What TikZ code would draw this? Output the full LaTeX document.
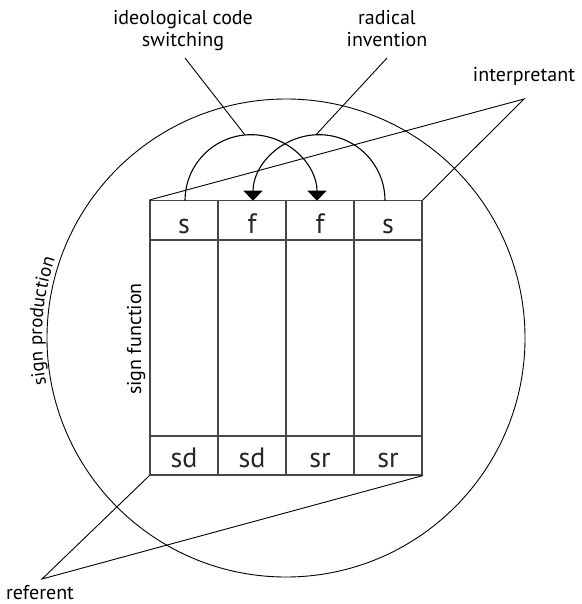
\documentclass[tikz,border=0pt]{standalone}
\usepackage{fontspec}
\setmainfont{PT Sans}
\usetikzlibrary{arrows.meta,decorations.text}
\begin{document}
\begin{tikzpicture}[x=1pt,y=-1pt,
  thinline/.style={draw=black,line width=0.9pt},
  gridline/.style={draw=black!72,line width=1.3pt},
  arcline/.style={draw=black,line width=1.1pt,-{Triangle[width=19pt,length=10pt]}},
  lbl/.style={inner sep=0pt,font=\fontsize{20}{22}\selectfont,align=center},
  celltxt/.style={inner sep=0pt,anchor=base,font=\fontsize{28}{30}\selectfont,text=black!85},
  tablebox/.style={gridline,minimum width=272pt,minimum height=274.3pt,inner sep=0pt}]
\useasboundingbox (0,0) rectangle (581,604);
% circle
\node[thinline,circle,minimum size=478pt,inner sep=0pt] (circ) at (286,338) {};
% table
\node[tablebox] (tbl) at (286,337.85) {};
\draw[gridline] (150,240) -- (422,240);
\draw[gridline] (150,436) -- (422,436);
\draw[gridline] (218,200.7) -- (218,475);
\draw[gridline] (286,200.7) -- (286,475);
\draw[gridline] (354,200.7) -- (354,475);
% cell texts
\node[celltxt] (t1) at (184,233) {s};
\node[celltxt] (t2) at (252,233) {f};
\node[celltxt] (t3) at (320,233) {f};
\node[celltxt] (t4) at (388,233) {s};
\node[celltxt] (b1) at (184,467) {sd};
\node[celltxt] (b2) at (252,467) {sd};
\node[celltxt] (b3) at (320,467) {sr};
\node[celltxt] (b4) at (388,467) {sr};
% arcs
\coordinate (a1s) at (185,200.7);
\coordinate (a2s) at (385,200.7);
\draw[arcline] (a1s) arc[start angle=180,end angle=360,radius=66];
\draw[arcline] (a2s) arc[start angle=0,end angle=-180,radius=66];
% top labels
\node[lbl,anchor=north] (ics) at (183,10) {ideological code\\switching};
\node[lbl,anchor=north] (rad) at (387,10) {radical\\invention};
\coordinate (icsL) at (185,58);
\coordinate (icsA) at (245,135);
\coordinate (radL) at (387,58);
\coordinate (radA) at (316,134.8);
\draw[thinline] (icsL) -- (icsA);
\draw[thinline] (radL) -- (radA);
% interpretant
\node[lbl,anchor=base] (interp) at (524,82) {interpretant};
\coordinate (iapex) at (524,99);
\draw[thinline] (tbl.north west) -- (iapex) -- (tbl.north east);
% referent
\node[lbl,anchor=base] (ref) at (40,599) {referent};
\coordinate (rapex) at (42,579);
\draw[thinline] (tbl.south west) -- (rapex) -- (tbl.south east);
% sign function
\node[lbl,anchor=base west,rotate=90] (sfun) at (141,395) {sign function};
% sign production along circle
\path[decorate,decoration={text along path,text align=center,
  text={|\fontsize{19}{20}\selectfont|sign production}}]
  (286,338) ++(149:244) arc[start angle=149,end angle=219,radius=244];
\end{tikzpicture}
\end{document}
